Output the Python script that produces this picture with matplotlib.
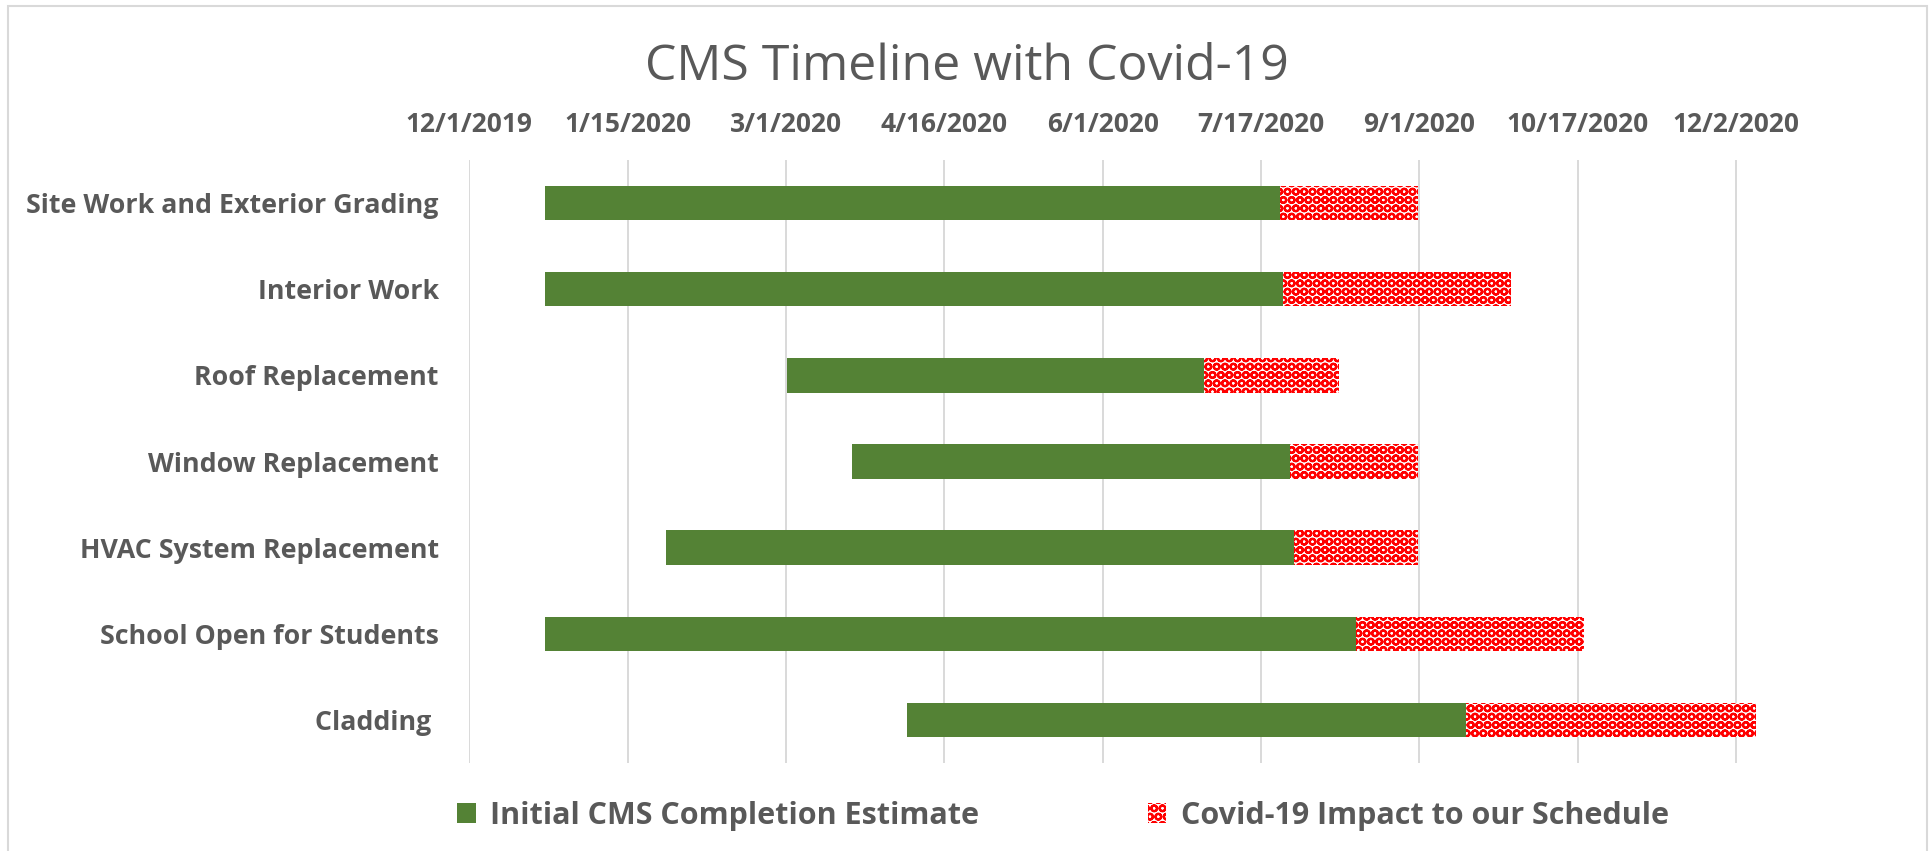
import matplotlib
matplotlib.use("Agg")
import matplotlib.pyplot as plt
import matplotlib.dates as mdates
from matplotlib.patches import Patch, Rectangle
import numpy as np
import pandas as pd

# ---------------- data ----------------
tasks = ["Site Work and Exterior Grading", "Interior Work", "Roof Replacement",
         "Window Replacement", "HVAC System Replacement",
         "School Open for Students", "Cladding "]
start_dates = ["2019-12-23", "2019-12-23", "2020-03-02", "2020-03-21",
               "2020-01-27", "2019-12-23", "2020-04-06"]
initial_end = ["2020-07-23", "2020-07-24", "2020-07-01", "2020-07-26",
               "2020-07-27", "2020-08-14", "2020-09-15"]
covid_end = ["2020-09-01", "2020-09-28", "2020-08-09", "2020-09-01",
             "2020-09-01", "2020-10-19", "2020-12-08"]
tick_labels = ["12/1/2019", "1/15/2020", "3/1/2020", "4/16/2020", "6/1/2020",
               "7/17/2020", "9/1/2020", "10/17/2020", "12/2/2020"]
axis_start = "2019-12-01"
major_unit = 45.9  # days
series_names = ["Initial CMS Completion Estimate", "Covid-19 Impact to our Schedule"]
title = "CMS Timeline with Covid-19"

# ---------------- style ----------------
GREEN = "#548235"
RED = "#FF0000"
TXT = "#595959"
GRID = "#D9D9D9"
FONT = ["Open Sans", "DejaVu Sans"]

W, H = 1933, 851
fig = plt.figure(figsize=(W / 100, H / 100), dpi=100)
plt.rcParams["hatch.linewidth"] = 1.6

x0 = mdates.date2num(pd.Timestamp(axis_start))
s = mdates.date2num(pd.to_datetime(start_dates))
g = mdates.date2num(pd.to_datetime(initial_end))
c = mdates.date2num(pd.to_datetime(covid_end))

left_px, right_px, top_px, bot_px = 469.3, 469.3 + 9 * 158.35, 160, 763
ax = fig.add_axes([left_px / W, (H - bot_px) / H, (right_px - left_px) / W,
                   (bot_px - top_px) / H])

y = np.arange(len(tasks))
ax.barh(y, g - s, left=s, height=0.4, color=GREEN, zorder=3)
ax.barh(y, c - g, left=g, height=0.4, facecolor="white", edgecolor=RED,
        linewidth=0, hatch="OO", zorder=3)

ax.set_xlim(x0, x0 + 9 * major_unit)
ax.set_ylim(len(tasks) - 0.5, -0.5)

ticks = x0 + major_unit * np.arange(len(tick_labels))
ax.set_xticks(ticks)
ax.set_xticklabels(tick_labels, fontsize=19, fontweight="bold", color=TXT,
                   family=FONT)
ax.xaxis.tick_top()
ax.tick_params(axis="x", length=0, pad=15.5)
ax.set_yticks(y)
ax.set_yticklabels(tasks, fontsize=19.3, fontweight="bold", color=TXT, family=FONT)
ax.tick_params(axis="y", length=0, pad=22)
ax.grid(axis="x", color=GRID, linewidth=1.4, zorder=0)
ax.set_axisbelow(True)
for sp in ax.spines.values():
    sp.set_visible(False)

# chart border
fig.add_artist(Rectangle((8 / W, -0.05), 1919 / W, (H - 6) / H + 0.05,
                         transform=fig.transFigure, fill=False,
                         edgecolor=GRID, linewidth=1.5))

fig.text(967 / W, 1 - 80 / H, title, ha="center", va="baseline",
         fontsize=36, color=TXT, family=FONT)

handles = [Patch(facecolor=GREEN, edgecolor="none", label=series_names[0]),
           Patch(facecolor="white", edgecolor=RED, linewidth=0, hatch="OO",
                 label=series_names[1])]
leg = fig.legend(handles=handles, loc="center", bbox_to_anchor=(1063 / W, 1 - 816 / H),
                 ncol=2, frameon=False, handlelength=0.62, handleheight=0.62,
                 handletextpad=0.46, columnspacing=5.5,
                 prop={"family": FONT, "weight": "bold", "size": 22})
for t in leg.get_texts():
    t.set_color(TXT)

fig.savefig("out.png", dpi=100)
